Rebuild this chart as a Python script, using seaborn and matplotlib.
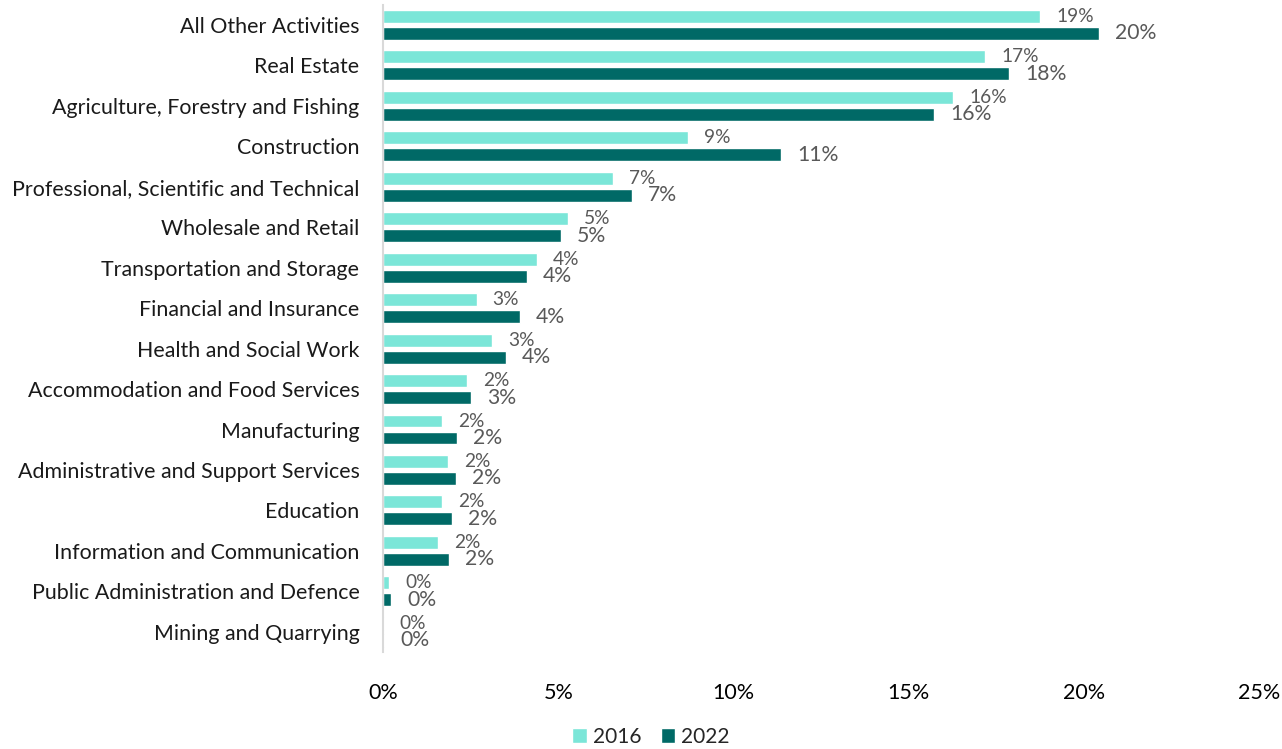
import matplotlib
matplotlib.use("Agg")
import matplotlib.pyplot as plt
import pandas as pd
import seaborn as sns
from matplotlib.ticker import FuncFormatter

# Share of businesses by industry (%), 2016 vs 2022
industries = [
    "All Other Activities",
    "Real Estate",
    "Agriculture, Forestry and Fishing",
    "Construction",
    "Professional, Scientific and Technical",
    "Wholesale and Retail",
    "Transportation and Storage",
    "Financial and Insurance",
    "Health and Social Work",
    "Accommodation and Food Services",
    "Manufacturing",
    "Administrative and Support Services",
    "Education",
    "Information and Communication",
    "Public Administration and Defence",
    "Mining and Quarrying",
]
share_2016 = [18.75, 17.18, 16.27, 8.70, 6.56, 5.28, 4.39, 2.67, 3.12, 2.40,
              1.68, 1.86, 1.68, 1.57, 0.17, 0.02]
share_2022 = [20.43, 17.87, 15.72, 11.36, 7.11, 5.08, 4.11, 3.90, 3.50, 2.52,
              2.11, 2.08, 1.97, 1.88, 0.23, 0.03]
years = ["2016", "2022"]
x_ticks = [0, 5, 10, 15, 20, 25]

df = pd.DataFrame({
    "industry": industries * 2,
    "share": share_2016 + share_2022,
    "year": [years[0]] * len(industries) + [years[1]] * len(industries),
})

sns.set_theme(style="white")
plt.rcParams["font.family"] = ["Lato", "DejaVu Sans"]

fig = plt.figure(figsize=(12.82, 7.49), dpi=100)
ax = fig.add_axes([0.2988, 0.1295, 0.6834, 0.8642])

palette = {"2016": "#7BE6D8", "2022": "#006966"}
sns.barplot(data=df, y="industry", x="share", hue="year", order=industries,
            hue_order=years, palette=palette, orient="h", width=0.84,
            gap=0.24, saturation=1, ax=ax)

label_color = "#595959"
for cont, size in zip(ax.containers, [13.8, 15.2]):
    ax.bar_label(cont, labels=[f"{b.get_width():.0f}%" for b in cont],
                 padding=11.5, fontsize=size, color=label_color)

ax.set_xlim(0, 25)
ax.set_xticks(x_ticks)
ax.xaxis.set_major_formatter(FuncFormatter(lambda v, p: f"{v:.0f}%"))
ax.set_xlabel("")
ax.set_ylabel("")
ax.tick_params(axis="x", length=0, pad=22, labelsize=15.5, labelcolor="#000000")
ax.tick_params(axis="y", length=0, pad=17, labelsize=15.4, labelcolor="#1a1a1a")

for s in ["top", "right", "bottom"]:
    ax.spines[s].set_visible(False)
ax.spines["left"].set_color("#D9D9D9")
ax.spines["left"].set_linewidth(1.5)

leg = ax.legend(title=None, loc="center", bbox_to_anchor=(0.306, -0.1314),
                ncol=2, frameon=False, fontsize=15, handlelength=0.7,
                handleheight=0.7, handletextpad=0.3, columnspacing=0.9,
                borderaxespad=0, borderpad=0)

fig.savefig("out.png", dpi=100)
